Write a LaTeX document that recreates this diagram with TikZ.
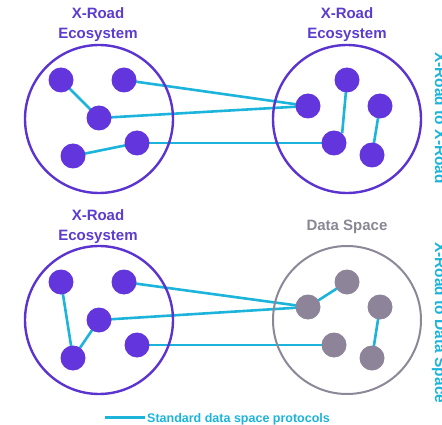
\documentclass[tikz,border=0pt]{standalone}
\usepackage{fontspec}
\setmainfont{Liberation Sans}
\pgfdeclarelayer{bg}
\pgfsetlayers{bg,main}
\definecolor{xpurple}{HTML}{6236DC}
\definecolor{xring}{HTML}{5B34CF}
\definecolor{xtitle}{HTML}{5C3BCF}
\definecolor{xcyan}{HTML}{1CB4DA}
\definecolor{xgray}{HTML}{8E849A}
\definecolor{xgring}{HTML}{8D8898}
\definecolor{xgtext}{HTML}{8A8794}
\tikzset{
  ring/.style={circle,draw=xring,line width=2.4pt,minimum size=148pt,inner sep=0pt},
  gring/.style={circle,draw=xgring,line width=2pt,minimum size=148pt,inner sep=0pt},
  pdot/.style={circle,fill=xpurple,minimum size=25pt,inner sep=0pt},
  gdot/.style={circle,fill=xgray,minimum size=25pt,inner sep=0pt},
  link/.style={draw=xcyan,line width=2.6pt},
  ttl/.style={font=\bfseries\fontsize{15}{20}\selectfont,align=center,inner sep=0pt},
  sidelbl/.style={font=\bfseries\fontsize{15.5}{18}\selectfont,text=xcyan,rotate=-90,anchor=base west,inner sep=0pt},
}
\begin{document}
\begin{tikzpicture}[x=1pt,y=-1pt]
\useasboundingbox (0,0) rectangle (442,425);
\clip (0,0) rectangle (442,425);
% titles
\node[ttl,text=xtitle] (t1) at (98,24.5) {X-Road\\Ecosystem};
\node[ttl,text=xtitle] (t2) at (347,24.5) {X-Road\\Ecosystem};
\node[ttl,text=xtitle] (t3) at (98,227) {X-Road\\Ecosystem};
\node[ttl,text=xgtext,anchor=base] (t4) at (347,230) {Data Space};
% rings
\node[ring] (c1) at (99,119) {};
\node[ring] (c2) at (347,119) {};
\node[ring] (c3) at (99,320) {};
\node[gring] (c4) at (347,320) {};
% top-left dots
\node[pdot] (d1) at (61,80) {};
\node[pdot] (d2) at (124,80) {};
\node[pdot] (d3) at (99,118) {};
\node[pdot] (d4) at (137,143) {};
\node[pdot] (d5) at (73,156) {};
% top-right dots
\node[pdot] (e1) at (347,80) {};
\node[pdot] (e2) at (308,106) {};
\node[pdot] (e3) at (380,106) {};
\node[pdot] (e4) at (334,143) {};
\node[pdot] (e5) at (372,155) {};
% bottom-left dots
\node[pdot] (f1) at (61,282) {};
\node[pdot] (f2) at (124,282) {};
\node[pdot] (f3) at (99,320) {};
\node[pdot] (f4) at (137,345) {};
\node[pdot] (f5) at (73,358) {};
% bottom-right dots
\node[gdot] (g1) at (347,282) {};
\node[gdot] (g2) at (308,307) {};
\node[gdot] (g3) at (380,307) {};
\node[gdot] (g4) at (334,345) {};
\node[gdot] (g5) at (372,358) {};
% links
\begin{pgfonlayer}{bg}
\path[link] (d1.center) -- (d3.center);
\path[link] (d5.center) -- (d4.center);
\path[link] (d2.center) -- (e2.center);
\path[link] (d3.center) -- (e2.center);
\path[link] (d4.center) -- (e4.center);
\path[link] (e1.center) -- (e4.50);
\path[link] (e3.center) -- (e5.center);
\path[link] (f1.center) -- (f5.center);
\path[link] (f5.center) -- (f3.center);
\path[link] (f2.center) -- (g2.center);
\path[link] (f3.center) -- (g2.center);
\path[link] (f4.center) -- (g4.center);
\path[link] (g2.center) -- (g1.center);
\path[link] (g3.center) -- (g5.center);
\end{pgfonlayer}
% side labels
\node[sidelbl] (s1) at (435,52) {X-Road to X-Road};
\node[sidelbl] (s2) at (435,242) {X-Road to Data Space};
% legend
\coordinate (la) at (105,417);
\node[font=\bfseries\fontsize{12.5}{15}\selectfont,text=xcyan,anchor=base west,inner sep=0pt] (lt) at (147,422) {Standard data space protocols};
\path[link,line width=3pt] (la) -- ([xshift=-2pt]lt.west |- la);
\end{tikzpicture}
\end{document}
